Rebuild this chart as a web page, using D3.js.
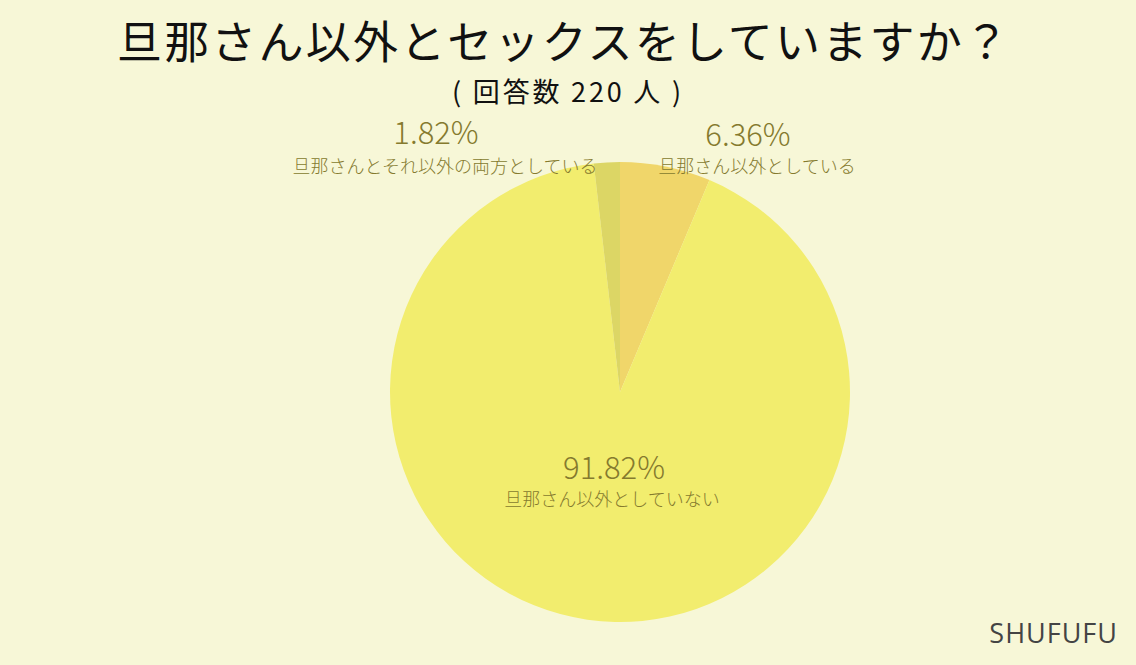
<!DOCTYPE html>
<html><head><meta charset="utf-8">
<script src="https://cdn.jsdelivr.net/npm/d3@7"></script>
<style>
html,body{margin:0;padding:0;background:#f7f7d7;}
svg{display:block;}
</style></head>
<body>
<svg id="chart" width="1136" height="665"></svg>
<script>
const categories = ["旦那さん以外としている", "旦那さん以外としていない", "旦那さんとそれ以外の両方としている"];
const values = [6.36, 91.82, 1.82];
const colors = ["#f0d66a", "#f2ed6e", "#dcd665"];
const title = "旦那さん以外とセックスをしていますか？";
const subtitle = "( 回答数 220 人 )";
const credit = "SHUFUFU";

const W = 1136, H = 665;
const cx = 620, cy = 392, R = 230;
const svg = d3.select("#chart");
svg.append("rect").attr("width", W).attr("height", H).attr("fill", "#f7f7d7");

const font = "'Noto Sans CJK JP','Noto Sans',sans-serif";

svg.append("text").attr("x", 564).attr("y", 59).attr("text-anchor", "middle")
  .attr("font-family", font).attr("font-size", 45).attr("letter-spacing", 2.2)
  .attr("fill", "#111").text(title);
svg.append("text").attr("x", 568).attr("y", 102).attr("text-anchor", "middle")
  .attr("font-family", font).attr("font-size", 27).attr("letter-spacing", 2.8)
  .attr("fill", "#111").text(subtitle);

const pie = d3.pie().sort(null).value(d => d)(values);
const arc = d3.arc().innerRadius(0).outerRadius(R);
const g = svg.append("g").attr("transform", `translate(${cx},${cy})`);
g.selectAll("path").data(pie).join("path")
  .attr("d", arc).attr("fill", (d, i) => colors[i]);

// label layout: [pctX, pctY, nameX, nameY] relative to center
const labelPos = [
  [128, -246, 137, -219],
  [-6, 87, -8, 114],
  [-184, -248, -175, -219]
];
const lab = g.selectAll("g.lab").data(pie).join("g").attr("class", "lab");
lab.append("text").attr("x", (d, i) => labelPos[i][0]).attr("y", (d, i) => labelPos[i][1])
  .attr("text-anchor", "middle").attr("font-family", font).attr("font-size", 31)
  .attr("font-weight", 300)
  .attr("fill", "#857a2e").text(d => d.data.toFixed(2) + "%");
lab.append("text").attr("x", (d, i) => labelPos[i][2]).attr("y", (d, i) => labelPos[i][3])
  .attr("text-anchor", "middle").attr("font-family", font).attr("font-size", 18)
  .attr("font-weight", 300)
  .attr("fill", "#857a2e").text((d, i) => categories[i]);

svg.append("text").attr("x", 1118).attr("y", 643).attr("text-anchor", "end")
  .attr("font-family", "'Open Sans','Noto Sans',sans-serif").attr("font-size", 27)
  .attr("letter-spacing", 1)
  .attr("fill", "#444").text(credit);
</script>
</body></html>
